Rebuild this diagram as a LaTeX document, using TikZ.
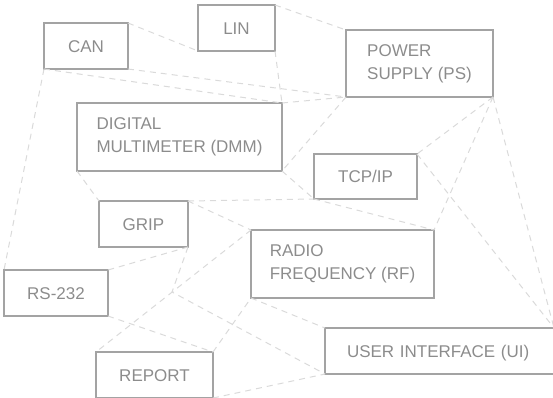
\documentclass[tikz,border=0pt]{standalone}
\usepackage{fontspec}
\setmainfont{Liberation Sans}
\definecolor{boxgray}{HTML}{A3A3A3}
\definecolor{textgray}{HTML}{8C8C8C}
\definecolor{linkgray}{HTML}{DADADA}
\tikzset{
  unit/.style={draw=boxgray, line width=1.4pt, text=textgray, anchor=north west,
    outer sep=0pt, inner sep=0pt, font=\fontsize{17}{23}\selectfont},
  unitone/.style={unit, text height=12.2pt, text depth=0pt},
  unittwo/.style={unit, align=left},
  link/.style={draw=linkgray, line width=1pt, dash pattern=on 6pt off 5pt}
}
\begin{document}
\begin{tikzpicture}[x=1pt, y=-1pt]
    \useasboundingbox (0,0) rectangle (553,397);

    % Boxes
    \node[unitone, minimum width=84, minimum height=46] (can) at (44,23) {CAN};
    \node[unitone, minimum width=77, minimum height=46] (lin) at (198,5) {LIN};
    \node[unittwo, minimum width=147, minimum height=67] (ps) at (346,30) {POWER\\SUPPLY (PS)};
    \node[unittwo, minimum width=205, minimum height=68] (dmm) at (77,103) {DIGITAL\\MULTIMETER (DMM)};
    \node[unitone, minimum width=103, minimum height=45] (tcp) at (314,154) {TCP/IP};
    \node[unitone, minimum width=89, minimum height=46] (grip) at (99,201) {GRIP};
    \node[unittwo, minimum width=183, minimum height=68] (rf) at (251,230) {RADIO\\FREQUENCY (RF)};
    \node[unitone, minimum width=104, minimum height=46] (rs) at (4,270) {RS-232};
    \node[unitone, minimum width=117, minimum height=46] (report) at (96,352) {REPORT};
    \node[unitone, minimum height=46, text width=185, inner xsep=22, align=left] (ui) at (325,328) {USER INTERFACE (UI)};

    % Free bend point
    \coordinate (bend) at (172,292);

    % Links
    \draw[link] (can.north east) -- (lin.south west);
    \draw[link] (can.south west) -- (rs.north west);
    \draw[link] (can.south west) -- (dmm.north east);
    \draw[link] (can.south east) -- (ps.south west);
    \draw[link] (lin.north east) -- (ps.north west);
    \draw[link] (lin.south east) -- (dmm.north east);
    \draw[link] (dmm.north east) -- (ps.south west);
    \draw[link] (ps.south west) -- (dmm.south east);
    \draw[link] (dmm.south west) -- (grip.north west);
    \draw[link] (dmm.south east) -- (tcp.south west);
    \draw[link] (grip.north east) -- (tcp.south west);
    \draw[link] (tcp.south west) -- (rf.north east);
    \draw[link] (grip.north east) -- (rf.north west);
    \draw[link] (grip.south east) -- (rs.north east);
    \draw[link] (grip.south east) -- (bend) -- (ui.south west);
    \draw[link] (rf.north west) -- (report.north west);
    \draw[link] (rs.south east) -- (report.north east);
    \draw[link] (report.north east) -- (rf.south west);
    \draw[link] (rf.south west) -- (ui.north west);
    \draw[link] (report.south east) -- (ui.south west);
    \draw[link] (ps.south east) -- (tcp.north east);
    \draw[link] (ps.south east) -- (rf.north east);
    \draw[link] (ps.south east) -- (ui.north east);
    \draw[link] (tcp.north east) -- (ui.north east);

\end{tikzpicture}
\end{document}
